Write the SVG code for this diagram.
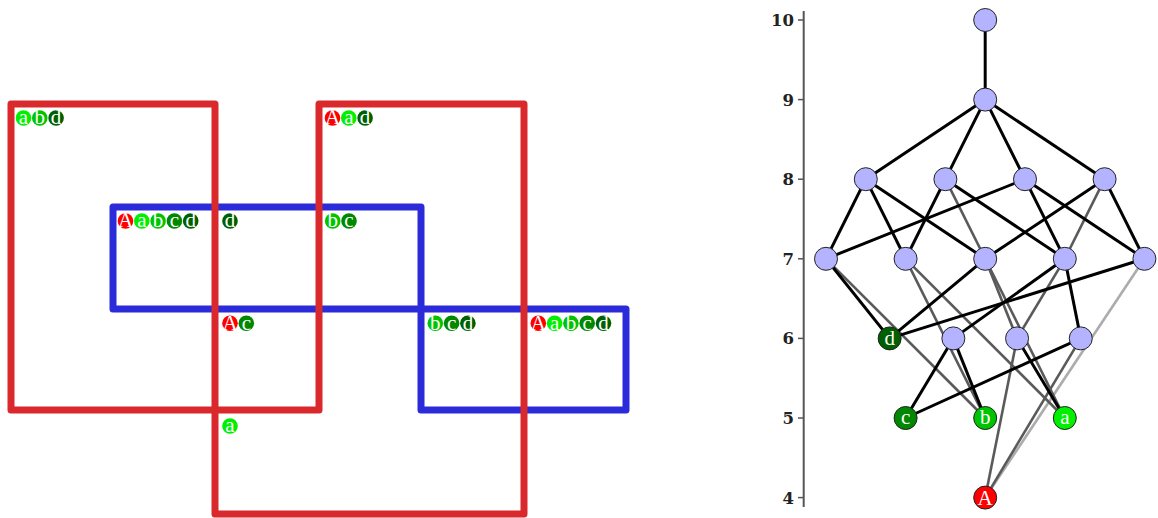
<svg xmlns="http://www.w3.org/2000/svg" width="1158" height="518" viewBox="0 0 1158 518">
  <style>
    .red-curve { fill: none; stroke: #d9292c; stroke-width: 7; stroke-linejoin: round; stroke-linecap: round; }
    .blue-curve { fill: none; stroke: #2b2bd9; stroke-width: 7; stroke-linejoin: round; stroke-linecap: round; }
    .bt { font-family: "Liberation Serif", "DejaVu Serif", serif; font-size: 21px; fill: #fff; text-anchor: middle; }
    .cA { fill: #ff0000; }
    .ca { fill: #00f000; }
    .cb { fill: #00c400; }
    .cc { fill: #008800; }
    .cd { fill: #006000; }
    .axis { stroke: #555; stroke-width: 2; fill: none; }
    .tick { stroke: #555; stroke-width: 1.5; }
    .ax-label { font-family: "DejaVu Serif", "Liberation Serif", serif; font-weight: bold; font-size: 16.5px; fill: #222; text-anchor: end; }
    .e { stroke: #000; stroke-width: 3; fill: none; }
    .g { stroke: #5a5a5a; stroke-width: 2.6; fill: none; }
    .lg { stroke: #acacac; stroke-width: 2.6; fill: none; }
    .node { fill: #b3b3ff; stroke: #222; stroke-width: 1; }
    .lnode { stroke: #222; stroke-width: 1; }
    .nt { font-family: "Liberation Serif", "DejaVu Serif", serif; font-size: 21px; fill: #fff; text-anchor: middle; }
  </style>

  <!-- Euler diagram: two self-crossing closed curves -->
  <g id="euler-curves">
    <path id="curve-blue" class="blue-curve" d="M113,207 H421 V410 H626 V309 H113 Z"/>
    <path id="curve-red" class="red-curve" d="M11,104 H215 V514 H524 V104 H319 V410 H11 Z"/>
  </g>

  <!-- zone labels: one coloured badge per element -->
  <g id="zone-abd">
    <circle class="ca" cx="23.5" cy="118" r="7.8"/><text class="bt" x="23.5" y="124.3">a</text>
    <circle class="cb" cx="39.8" cy="118" r="7.8"/><text class="bt" x="39.8" y="124.3">b</text>
    <circle class="cd" cx="56.1" cy="118" r="7.8"/><text class="bt" x="56.1" y="124.3">d</text>
  </g>
  <g id="zone-Aad">
    <circle class="cA" cx="332.5" cy="118" r="7.8"/><text class="bt" x="332.5" y="124.3">A</text>
    <circle class="ca" cx="348.8" cy="118" r="7.8"/><text class="bt" x="348.8" y="124.3">a</text>
    <circle class="cd" cx="365.1" cy="118" r="7.8"/><text class="bt" x="365.1" y="124.3">d</text>
  </g>
  <g id="zone-Aabcd-1">
    <circle class="cA" cx="125.5" cy="221" r="7.8"/><text class="bt" x="125.5" y="227.3">A</text>
    <circle class="ca" cx="141.8" cy="221" r="7.8"/><text class="bt" x="141.8" y="227.3">a</text>
    <circle class="cb" cx="158.1" cy="221" r="7.8"/><text class="bt" x="158.1" y="227.3">b</text>
    <circle class="cc" cx="174.4" cy="221" r="7.8"/><text class="bt" x="174.4" y="227.3">c</text>
    <circle class="cd" cx="190.7" cy="221" r="7.8"/><text class="bt" x="190.7" y="227.3">d</text>
  </g>
  <g id="zone-d">
    <circle class="cd" cx="230" cy="221" r="7.8"/><text class="bt" x="230" y="227.3">d</text>
  </g>
  <g id="zone-bc">
    <circle class="cb" cx="332.7" cy="221" r="7.8"/><text class="bt" x="332.7" y="227.3">b</text>
    <circle class="cc" cx="349" cy="221" r="7.8"/><text class="bt" x="349" y="227.3">c</text>
  </g>
  <g id="zone-Ac">
    <circle class="cA" cx="230" cy="323.3" r="7.8"/><text class="bt" x="230" y="329.6">A</text>
    <circle class="cc" cx="246.3" cy="323.3" r="7.8"/><text class="bt" x="246.3" y="329.6">c</text>
  </g>
  <g id="zone-bcd">
    <circle class="cb" cx="435.3" cy="323.3" r="7.8"/><text class="bt" x="435.3" y="329.6">b</text>
    <circle class="cc" cx="451.6" cy="323.3" r="7.8"/><text class="bt" x="451.6" y="329.6">c</text>
    <circle class="cd" cx="467.9" cy="323.3" r="7.8"/><text class="bt" x="467.9" y="329.6">d</text>
  </g>
  <g id="zone-Aabcd-2">
    <circle class="cA" cx="538.3" cy="323.3" r="7.8"/><text class="bt" x="538.3" y="329.6">A</text>
    <circle class="ca" cx="554.6" cy="323.3" r="7.8"/><text class="bt" x="554.6" y="329.6">a</text>
    <circle class="cb" cx="570.9" cy="323.3" r="7.8"/><text class="bt" x="570.9" y="329.6">b</text>
    <circle class="cc" cx="587.2" cy="323.3" r="7.8"/><text class="bt" x="587.2" y="329.6">c</text>
    <circle class="cd" cx="603.5" cy="323.3" r="7.8"/><text class="bt" x="603.5" y="329.6">d</text>
  </g>
  <g id="zone-a">
    <circle class="ca" cx="230" cy="426" r="7.8"/><text class="bt" x="230" y="432.3">a</text>
  </g>

  <!-- level axis -->
  <g id="axis">
    <line class="axis" x1="803.7" y1="11" x2="803.7" y2="507"/>
    <line class="tick" x1="798" y1="20" x2="803.7" y2="20"/>
    <line class="tick" x1="798" y1="99.6" x2="803.7" y2="99.6"/>
    <line class="tick" x1="798" y1="179.2" x2="803.7" y2="179.2"/>
    <line class="tick" x1="798" y1="258.8" x2="803.7" y2="258.8"/>
    <line class="tick" x1="798" y1="338.4" x2="803.7" y2="338.4"/>
    <line class="tick" x1="798" y1="418" x2="803.7" y2="418"/>
    <line class="tick" x1="798" y1="497.6" x2="803.7" y2="497.6"/>
    <text class="ax-label" x="794" y="26">10</text>
    <text class="ax-label" x="794" y="105.6">9</text>
    <text class="ax-label" x="794" y="185.2">8</text>
    <text class="ax-label" x="794" y="264.8">7</text>
    <text class="ax-label" x="794" y="344.4">6</text>
    <text class="ax-label" x="794" y="424">5</text>
    <text class="ax-label" x="794" y="503.6">4</text>
  </g>

  <!-- lattice edges -->
  <g id="connectors">
    <line class="lg" x1="1144.4" y1="258.8" x2="985.2" y2="497.6"/>
    <line class="g" x1="826" y1="258.8" x2="985.2" y2="418"/>
    <line class="g" x1="905.6" y1="258.8" x2="985.2" y2="418"/>
    <line class="g" x1="905.6" y1="258.8" x2="1064.8" y2="418"/>
    <line class="g" x1="945.4" y1="179.2" x2="1064.8" y2="418"/>
    <line class="g" x1="985.2" y1="258.8" x2="1017.05" y2="338.4"/>
    <line class="g" x1="1104.6" y1="179.2" x2="1064.8" y2="258.8"/>
    <line class="g" x1="1064.8" y1="258.8" x2="1017.05" y2="338.4"/>
    <line class="g" x1="1017.05" y1="338.4" x2="985.2" y2="497.6"/>
    <line class="g" x1="1080.75" y1="338.4" x2="985.2" y2="497.6"/>

    <line class="e" x1="985.2" y1="20" x2="985.2" y2="99.6"/>
    <line class="e" x1="985.2" y1="99.6" x2="865.8" y2="179.2"/>
    <line class="e" x1="985.2" y1="99.6" x2="945.4" y2="179.2"/>
    <line class="e" x1="985.2" y1="99.6" x2="1025" y2="179.2"/>
    <line class="e" x1="985.2" y1="99.6" x2="1104.6" y2="179.2"/>
    <line class="e" x1="865.8" y1="179.2" x2="826" y2="258.8"/>
    <line class="e" x1="865.8" y1="179.2" x2="905.6" y2="258.8"/>
    <line class="e" x1="865.8" y1="179.2" x2="985.2" y2="258.8"/>
    <line class="e" x1="945.4" y1="179.2" x2="905.6" y2="258.8"/>
    <line class="e" x1="945.4" y1="179.2" x2="1064.8" y2="258.8"/>
    <line class="e" x1="1025" y1="179.2" x2="826" y2="258.8"/>
    <line class="e" x1="1025" y1="179.2" x2="1064.8" y2="258.8"/>
    <line class="e" x1="1025" y1="179.2" x2="1144.4" y2="258.8"/>
    <line class="e" x1="1104.6" y1="179.2" x2="985.2" y2="258.8"/>
    <line class="e" x1="1104.6" y1="179.2" x2="1144.4" y2="258.8"/>
    <line class="e" x1="826" y1="258.8" x2="889.65" y2="338.4"/>
    <line class="e" x1="985.2" y1="258.8" x2="889.65" y2="338.4"/>
    <line class="e" x1="1144.4" y1="258.8" x2="889.65" y2="338.4"/>
    <line class="e" x1="1064.8" y1="258.8" x2="953.35" y2="338.4"/>
    <line class="e" x1="1064.8" y1="258.8" x2="1080.75" y2="338.4"/>
    <line class="e" x1="953.35" y1="338.4" x2="905.6" y2="418"/>
    <line class="e" x1="953.35" y1="338.4" x2="985.2" y2="418"/>
    <line class="e" x1="1017.05" y1="338.4" x2="1064.8" y2="418"/>
    <line class="e" x1="1080.75" y1="338.4" x2="905.6" y2="418"/>
  </g>

  <!-- lattice nodes -->
  <g id="n10"><circle class="node" cx="985.2" cy="20" r="11.5"/></g>
  <g id="n9"><circle class="node" cx="985.2" cy="99.6" r="11.5"/></g>
  <g id="n8-1"><circle class="node" cx="865.8" cy="179.2" r="11.5"/></g>
  <g id="n8-2"><circle class="node" cx="945.4" cy="179.2" r="11.5"/></g>
  <g id="n8-3"><circle class="node" cx="1025" cy="179.2" r="11.5"/></g>
  <g id="n8-4"><circle class="node" cx="1104.6" cy="179.2" r="11.5"/></g>
  <g id="n7-1"><circle class="node" cx="826" cy="258.8" r="11.5"/></g>
  <g id="n7-2"><circle class="node" cx="905.6" cy="258.8" r="11.5"/></g>
  <g id="n7-3"><circle class="node" cx="985.2" cy="258.8" r="11.5"/></g>
  <g id="n7-4"><circle class="node" cx="1064.8" cy="258.8" r="11.5"/></g>
  <g id="n7-5"><circle class="node" cx="1144.4" cy="258.8" r="11.5"/></g>
  <g id="node-d"><circle class="lnode cd" cx="889.65" cy="338.4" r="11.5"/><text class="nt" x="889.65" y="344.8">d</text></g>
  <g id="n6-2"><circle class="node" cx="953.35" cy="338.4" r="11.5"/></g>
  <g id="n6-3"><circle class="node" cx="1017.05" cy="338.4" r="11.5"/></g>
  <g id="n6-4"><circle class="node" cx="1080.75" cy="338.4" r="11.5"/></g>
  <g id="node-c"><circle class="lnode cc" cx="905.6" cy="418" r="11.5"/><text class="nt" x="905.6" y="424.4">c</text></g>
  <g id="node-b"><circle class="lnode cb" cx="985.2" cy="418" r="11.5"/><text class="nt" x="985.2" y="424.4">b</text></g>
  <g id="node-a"><circle class="lnode ca" cx="1064.8" cy="418" r="11.5"/><text class="nt" x="1064.8" y="424.4">a</text></g>
  <g id="node-A"><circle class="lnode cA" cx="985.2" cy="497.6" r="11.5"/><text class="nt" x="985.2" y="504.6">A</text></g>
</svg>
